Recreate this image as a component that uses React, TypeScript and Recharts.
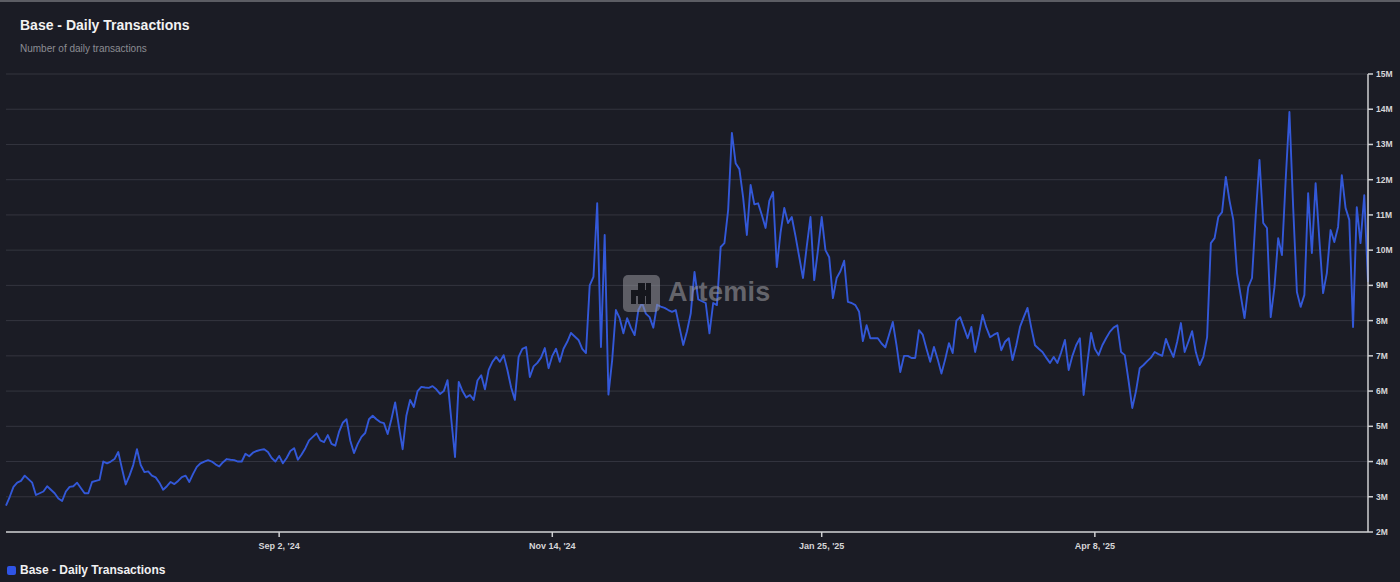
import React from "react";
import { LineChart, Line, XAxis, YAxis, CartesianGrid } from "recharts";

const DAY = 86400000;
const START = Date.UTC(2024, 5, 21);

// daily transactions, millions, Jun 21 '24 -> Jun 20 '25
const dailyTx = [
  2.75, 3.0, 3.28, 3.4, 3.45, 3.6, 3.5, 3.4, 3.05, 3.1,
  3.15, 3.3, 3.2, 3.1, 2.95, 2.88, 3.15, 3.28, 3.3, 3.4,
  3.25, 3.1, 3.1, 3.42, 3.45, 3.48, 4.0, 3.95, 4.0, 4.07,
  4.27, 3.8, 3.35, 3.6, 3.9, 4.35, 3.9, 3.7, 3.72, 3.6,
  3.55, 3.4, 3.2, 3.3, 3.42, 3.36, 3.45, 3.56, 3.6, 3.42,
  3.65, 3.85, 3.95, 4.0, 4.04, 4.0, 3.92, 3.86, 3.98, 4.07,
  4.05, 4.04, 4.0, 4.0, 4.22, 4.15, 4.25, 4.3, 4.33, 4.35,
  4.27, 4.1, 4.0, 4.16, 3.95, 4.1, 4.3, 4.38, 4.05, 4.2,
  4.38, 4.6, 4.7, 4.8, 4.6, 4.55, 4.75, 4.5, 4.45, 4.84,
  5.1, 5.2, 4.6, 4.24, 4.5, 4.7, 4.81, 5.2, 5.3, 5.2,
  5.12, 5.09, 4.78, 5.2, 5.68, 5.0, 4.35, 5.3, 5.75, 5.55,
  6.0, 6.12, 6.1, 6.09, 6.14, 6.05, 5.92, 6.0, 6.31, 5.2,
  4.13, 6.26, 6.0, 5.82, 5.89, 5.75, 6.3, 6.45, 6.05, 6.6,
  6.83, 6.97, 6.83, 7.02, 6.6, 6.1, 5.75, 6.97, 7.2, 7.25,
  6.4, 6.7, 6.8, 6.95, 7.22, 6.65, 7.0, 7.2, 6.83, 7.2,
  7.4, 7.65, 7.55, 7.45, 7.2, 7.08, 9.0, 9.24, 11.33, 7.25,
  10.43, 5.9, 6.88, 8.3, 8.07, 7.64, 8.07, 7.8, 7.59, 8.3,
  8.5, 8.2, 8.1, 7.8, 8.45, 8.4, 8.36, 8.3, 8.25, 8.3,
  7.8, 7.31, 7.7, 8.2, 9.38, 8.6, 8.55, 8.5, 7.64, 8.5,
  8.44, 10.09, 10.2, 11.14, 13.33, 12.47, 12.3, 11.5, 10.43, 11.85,
  11.3, 11.33, 11.0, 10.63, 11.4, 11.65, 9.52, 10.5, 11.2, 10.77,
  10.94, 10.4, 9.8, 9.21, 10.1, 10.94, 9.15, 10.0, 10.94, 10.0,
  9.8, 8.64, 9.21, 9.4, 9.7, 8.53, 8.5, 8.44, 8.25, 7.42,
  7.87, 7.5, 7.5, 7.5, 7.35, 7.24, 7.6, 7.96, 7.3, 6.54,
  7.0, 7.0, 6.94, 6.94, 7.73, 7.6, 7.2, 6.83, 7.25, 6.9,
  6.5, 6.9, 7.36, 7.08, 8.0, 8.1, 7.8, 7.5, 7.82, 7.11,
  7.6, 8.16, 7.8, 7.53, 7.6, 7.65, 7.16, 7.4, 7.5, 6.88,
  7.3, 7.82, 8.1, 8.36, 7.8, 7.3, 7.2, 7.11, 6.95, 6.8,
  6.97, 6.8, 7.1, 7.45, 6.6, 7.0, 7.3, 7.5, 5.89, 6.8,
  7.65, 7.2, 7.02, 7.3, 7.5, 7.68, 7.8, 7.87, 7.11, 7.02,
  6.3, 5.52, 6.0, 6.65, 6.74, 6.85, 6.95, 7.11, 7.05, 7.0,
  7.48, 7.2, 6.97, 7.4, 7.93, 7.11, 7.4, 7.7, 7.1, 6.74,
  6.97, 7.53, 10.2, 10.34, 10.94, 11.08, 12.08, 11.4, 10.86, 9.35,
  8.7, 8.07, 8.95, 9.21, 11.0, 12.56, 10.77, 10.63, 8.1, 8.95,
  10.34, 9.86, 12.0, 13.92, 11.22, 8.81, 8.39, 8.73, 11.62, 9.92,
  11.9, 10.3, 8.78, 9.35, 10.57, 10.23, 10.66, 12.13, 11.2, 10.86,
  7.82, 11.22, 10.2, 11.56, 9.1,
];

const xTicks = [Date.UTC(2024, 8, 2), Date.UTC(2024, 10, 14), Date.UTC(2025, 0, 25), Date.UTC(2025, 3, 8)];
const xTickLabels = ["Sep 2, '24", "Nov 14, '24", "Jan 25, '25", "Apr 8, '25"];
const yTicks = [2, 3, 4, 5, 6, 7, 8, 9, 10, 11, 12, 13, 14, 15].map((m) => m * 1e6);

const data = dailyTx.map((v, i) => ({ t: START + i * DAY, tx: v * 1e6 }));

const BG = "#1b1c25";
const LINE = "#3358d8";
const FONT = "'Liberation Sans', Arial, Helvetica, sans-serif";

export default function App() {
  return (
    <div style={{ position: "relative", width: 1400, height: 582, background: BG, fontFamily: FONT, overflow: "hidden" }}>
      <style>{`body{margin:0;background:${BG}}`}</style>
      <div style={{ position: "absolute", left: 0, top: 0, width: 1400, height: 2, background: "#5c5d64" }} />
      <div style={{ position: "absolute", left: 20, top: 17, color: "#f2f2f2", fontSize: 14, fontWeight: 700 }}>
        Base - Daily Transactions
      </div>
      <div style={{ position: "absolute", left: 20, top: 43, color: "#8b8c93", fontSize: 10 }}>
        Number of daily transactions
      </div>

      <LineChart width={1400} height={582} data={data} margin={{ top: 74, right: 0, bottom: 0, left: 6 }}>
        <CartesianGrid vertical={false} stroke="#34353f" strokeWidth={1} />
        <XAxis
          dataKey="t"
          type="number"
          scale="linear"
          domain={[START, START + (dailyTx.length - 1) * DAY]}
          ticks={xTicks}
          tickFormatter={(v: number) => xTickLabels[xTicks.indexOf(v)] ?? ""}
          height={50}
          stroke="#cfcfd2"
          strokeWidth={1.5}
          tickSize={5}
          tick={{ fill: "#d6d6d8", fontSize: 9, fontWeight: 700 }}
          tickMargin={6}
        />
        <YAxis
          orientation="right"
          width={32}
          domain={[2e6, 15e6]}
          ticks={yTicks}
          interval={0}
          tickFormatter={(v: number) => `${v / 1e6}M`}
          stroke="#cfcfd2"
          strokeWidth={1.5}
          tickSize={5}
          tick={{ fill: "#d6d6d8", fontSize: 8.5, fontWeight: 700, textAnchor: "start" }}
          tickMargin={3}
        />
        <Line
          type="linear"
          dataKey="tx"
          stroke={LINE}
          strokeWidth={1.9}
          strokeLinejoin="round"
          dot={false}
          isAnimationActive={false}
        />
      </LineChart>

      {/* watermark */}
      <div style={{ position: "absolute", left: 623, top: 275, width: 37, height: 37, borderRadius: 5, background: "rgba(150,150,156,0.55)" }}>
        <div style={{ position: "absolute", left: 15, top: 8, width: 7, height: 21, background: "#15161c" }} />
        <div style={{ position: "absolute", left: 8, top: 15, width: 20, height: 6, background: "#15161c" }} />
        <div style={{ position: "absolute", left: 23, top: 8, width: 5, height: 21, background: "#15161c" }} />
        <div style={{ position: "absolute", left: 8, top: 15, width: 5, height: 14, background: "#15161c" }} />
      </div>
      <div style={{ position: "absolute", left: 668, top: 277, color: "rgba(150,150,156,0.6)", fontSize: 27, fontWeight: 700, letterSpacing: 0.3 }}>
        Artemis
      </div>

      {/* legend */}
      <div style={{ position: "absolute", left: 7, top: 563, display: "flex", alignItems: "center" }}>
        <div style={{ width: 9, height: 9, borderRadius: 2, background: "#2f54e6", marginRight: 4 }} />
        <span style={{ color: "#f0f0f2", fontSize: 12, fontWeight: 700 }}>Base - Daily Transactions</span>
      </div>
    </div>
  );
}
